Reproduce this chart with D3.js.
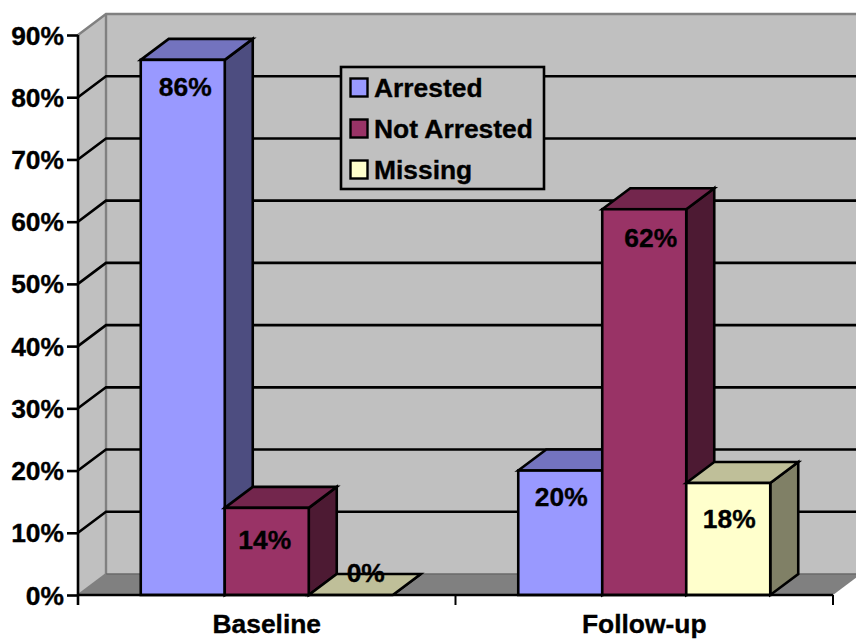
<!DOCTYPE html>
<html>
<head>
<meta charset="utf-8">
<script src="https://cdn.jsdelivr.net/npm/d3@7"></script>
<style>
html,body{margin:0;padding:0;background:#fff;}
svg{display:block;}
text{font-family:"Liberation Sans",Arial,sans-serif;font-weight:bold;font-size:26.4px;fill:#000;stroke:#000;stroke-width:0.35px;}
</style>
</head>
<body>
<svg id="chart" width="856" height="639"></svg>
<script>
// Arrest status at baseline and follow-up, as percentages
const categories = ["Baseline", "Follow-up"];
const seriesNames = ["Arrested", "Not Arrested", "Missing"];
const arrested = [86, 20];
const notArrested = [14, 62];
const missing = [0, 18];
const yTicks = [0, 10, 20, 30, 40, 50, 60, 70, 80, 90];

const seriesValues = [arrested, notArrested, missing];
const frontColors = ["#9999FF", "#993366", "#FFFFCC"];
const topColors = ["#7373BF", "#73264D", "#BFBF99"];
const sideColors = ["#4D4D80", "#4D1A33", "#808066"];

// Hand placement of value labels: [dx from bar centre, baseline below bar top]
const labelNudge = [
  [[2.5, 36], [-2, 41], [15, -13]],
  [[1, 35], [6.5, 38], [1, 45]]
];

const depthX = 28, depthY = -21;
const edge = 2.6;
const svg = d3.select("#chart");

const x = d3.scaleBand().domain(categories).range([78, 833]);
const y = d3.scaleLinear().domain([0, 90]).range([595, 35]);
const inner = d3.scaleBand().domain(d3.range(seriesNames.length)).range([0, 252]);
const barX = (c, s) => x(categories[c]) + (x.bandwidth() - 252) / 2 + inner(s);
const pts = a => a.map(p => p.join(",")).join(" ");

// Chart walls and floor
const x0 = x.range()[0], x1 = x.range()[1], y0 = y(0), yTop = y(90);
svg.append("polygon").attr("points", pts([[x0, yTop], [x0 + depthX, yTop + depthY], [x0 + depthX, y0 + depthY], [x0, y0]])).attr("fill", "#C0C0C0");
svg.append("polygon").attr("points", pts([[x0 + depthX, yTop + depthY], [x1 + depthX, yTop + depthY], [x1 + depthX, y0 + depthY], [x0 + depthX, y0 + depthY]])).attr("fill", "#C0C0C0");
svg.append("polygon").attr("points", pts([[x0, y0], [x0 + depthX, y0 + depthY], [x1 + depthX, y0 + depthY], [x1, y0]])).attr("fill", "#808080");
svg.append("polyline").attr("points", pts([[x0, yTop], [x0 + depthX, yTop + depthY], [x1 + depthX, yTop + depthY]])).attr("fill", "none").attr("stroke", "#808080").attr("stroke-width", 2.4);
svg.append("line").attr("x1", x0 + depthX).attr("x2", x0 + depthX).attr("y1", yTop + depthY).attr("y2", y0 + depthY).attr("stroke", "#808080").attr("stroke-width", 2.4);
svg.append("line").attr("x1", x0 + depthX).attr("x2", x1 + depthX).attr("y1", y0 + depthY).attr("y2", y0 + depthY).attr("stroke", "#6a6a6a").attr("stroke-width", 1.5);
svg.append("line").attr("x1", x0).attr("x2", x0 + depthX).attr("y1", y0).attr("y2", y0 + depthY).attr("stroke", "#808080").attr("stroke-width", 2);

// Gridlines run up the side wall and across the back wall
yTicks.filter(t => t > 0 && t < 90).forEach(t => {
  svg.append("polyline")
    .attr("points", pts([[x0, y(t)], [x0 + depthX, y(t) + depthY], [x1 + depthX, y(t) + depthY]]))
    .attr("fill", "none").attr("stroke", "#000").attr("stroke-width", edge);
});

// Axes
const yAxis = svg.append("g").attr("transform", `translate(${x0},0)`)
  .call(d3.axisLeft(y).tickValues(yTicks).tickFormat(d => d + "%").tickSize(11).tickPadding(3));
yAxis.selectAll("line").attr("stroke", "#000").attr("stroke-width", edge);
yAxis.select(".domain").attr("stroke", "#000").attr("stroke-width", edge).attr("d", `M0,${yTop}V${y0 + 10}`);
yAxis.selectAll("text").attr("dy", null).attr("y", 9).style("font-size", "26.4px");

// Bars, painted left to right so each one overlaps its neighbour's side
categories.forEach((cat, c) => {
  seriesNames.forEach((name, s) => {
    const v = seriesValues[s][c];
    const l = barX(c, s), r = l + inner.bandwidth(), t = y(v), b = y(0);
    const g = svg.append("g");
    const stroke = sel => sel.attr("stroke", "#000").attr("stroke-width", edge).attr("stroke-linejoin", "miter");
    g.append("polygon").attr("points", pts([[r, t], [r + depthX, t + depthY], [r + depthX, b + depthY], [r, b]])).attr("fill", sideColors[s]).call(stroke);
    g.append("polygon").attr("points", pts([[l, t], [l + depthX, t + depthY], [r + depthX, t + depthY], [r, t]])).attr("fill", topColors[s]).call(stroke);
    g.append("rect").attr("x", l).attr("y", t).attr("width", r - l).attr("height", b - t).attr("fill", frontColors[s]).call(stroke);
  });
});

// Floor-front axis line and category ticks, above the bars
svg.append("line").attr("x1", x0).attr("x2", x1).attr("y1", y0).attr("y2", y0).attr("stroke", "#000").attr("stroke-width", edge);
[x0, x0 + x.step(), x1].forEach(px => {
  svg.append("line").attr("x1", px).attr("x2", px).attr("y1", y0).attr("y2", y0 + 10).attr("stroke", "#000").attr("stroke-width", 2);
});
categories.forEach(cat => {
  svg.append("text").attr("x", x(cat) + x.bandwidth() / 2).attr("y", 633).attr("text-anchor", "middle").text(cat);
});

// Value labels
categories.forEach((cat, c) => {
  seriesNames.forEach((name, s) => {
    const v = seriesValues[s][c];
    const [dx, dy] = labelNudge[c][s];
    svg.append("text")
      .attr("x", barX(c, s) + inner.bandwidth() / 2 + dx)
      .attr("y", y(v) + dy)
      .attr("text-anchor", "middle")
      .text(v + "%");
  });
});

// Legend
const legend = svg.append("g");
legend.append("rect").attr("x", 341).attr("y", 67).attr("width", 203).attr("height", 122)
  .attr("fill", "#C0C0C0").attr("stroke", "#000").attr("stroke-width", edge);
const legendRow = d3.scalePoint().domain(seriesNames).range([87.5, 169.5]);
seriesNames.forEach((name, s) => {
  const cy = legendRow(name);
  legend.append("rect").attr("x", 350.5).attr("y", cy - 9).attr("width", 17).attr("height", 18)
    .attr("fill", frontColors[s]).attr("stroke", "#000").attr("stroke-width", 2.4);
  legend.append("text").attr("x", 374).attr("y", cy + 9.5).text(name);
});
</script>
</body>
</html>
